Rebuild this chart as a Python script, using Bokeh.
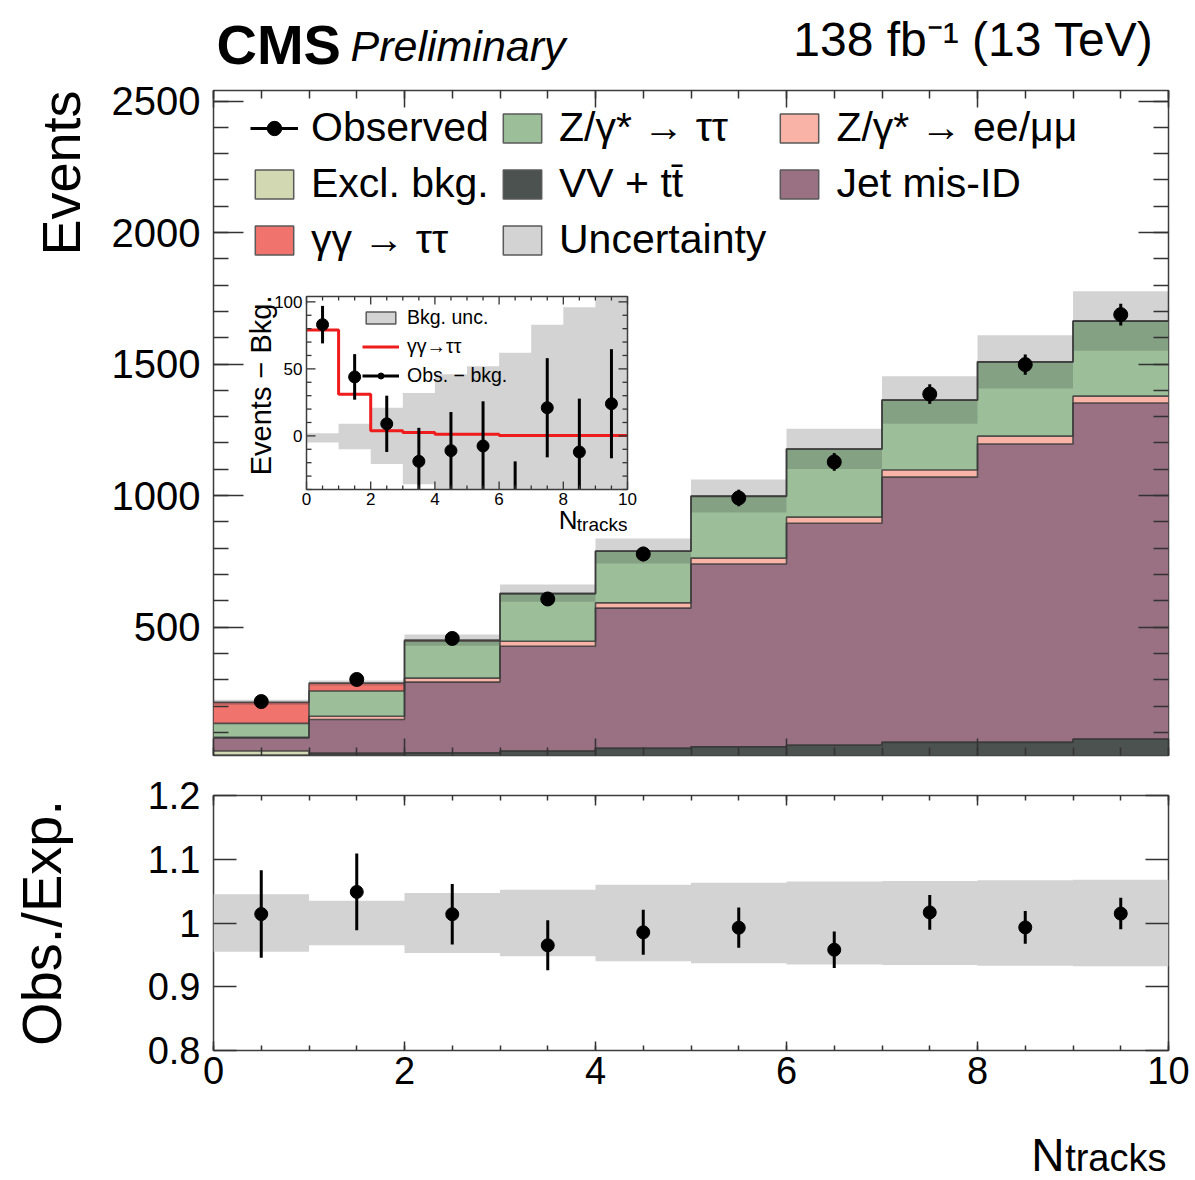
import numpy as np
from bokeh.plotting import figure
from bokeh.models import (Range1d, LinearAxis, FixedTicker, Legend, LegendItem, Title, Label,
                          CustomJSTickFormatter, GridBox)
from bokeh.core.properties import value
from bokeh.embed import file_html
from bokeh.resources import INLINE

FONT = "Liberation Sans"

# ---------------- data ----------------
bin_edges = [0, 1, 2, 3, 4, 5, 6, 7, 8, 9, 10]
bin_centers = [0.5, 1.5, 2.5, 3.5, 4.5, 5.5, 6.5, 7.5, 8.5, 9.5]

vv_ttbar = [14, 18, 21, 28, 39, 45, 51, 62, 62, 74]
excl_bkg = [15, 3, 1, 0.5, 0.3, 0.2, 0.1, 0.1, 0.1, 0.1]
jet_misid = [50, 128, 269, 399, 533, 695, 844, 1008, 1134, 1278]
dy_ll = [2, 12, 15, 19, 20, 22, 23, 27, 30, 26]
dy_tautau = [53, 96, 141, 180, 196, 235, 259, 266, 282, 285]
gg_tautau = [80, 30, 3.8, 2.5, 1.2, 1.2, 0.3, 0.3, 0.3, 0.3]

observed = [217, 301, 457, 607, 778, 991, 1128, 1386, 1498, 1688]
observed_err = [14.7, 17.3, 21.4, 24.6, 27.9, 31.5, 33.6, 37.2, 38.7, 41.1]
rel_unc = [0.045, 0.035, 0.047, 0.052, 0.060, 0.063, 0.065, 0.066, 0.067, 0.068]

inset_obs_minus_bkg = [83, 44, 9, -19, -11, -7.5, -53, 21, -12, 24]
inset_obs_err = [14, 17, 21, 25, 28.8, 33.3, 34, 37, 39.8, 40.7]
inset_signal = [79, 31, 3.8, 2.5, 1.2, 1.2, 0.2, 0.2, 0.2, 0.2]
inset_unc_up = [2, 9, 21, 32, 46, 52, 62, 83, 96, 110]
inset_unc_down = [-5, -10, -21, -36, -46, -52, -62, -83, -96, -110]

main_x_ticks = [0, 2, 4, 6, 8, 10]
main_y_ticks = [500, 1000, 1500, 2000, 2500]
ratio_y_ticks = [0.8, 0.9, 1.0, 1.1, 1.2]
inset_x_ticks = [0, 2, 4, 6, 8, 10]
inset_y_ticks = [0, 50, 100]

# ---------------- colours ----------------
COL_VV = "#4c5250"
COL_EX = "#d2d8b2"
COL_JET = "#997183"
COL_LL = "#f9b3a7"
COL_TT = "#9cbf9a"
COL_GG = "#f0736e"
COL_UNC = "#d3d3d3"
COL_LINE = "#3a3a3a"
COL_FRAME = "#3c3c3c"
COL_TICK = "#333333"
NAN1 = [np.nan]


def mid(baseline_px, size_px):
    """vertical centre of a text line whose baseline sits at baseline_px"""
    return baseline_px - 0.3465 * size_px


def ext(a):
    a = np.asarray(a, dtype=float)
    return np.append(a, a[-1])


def style_axis(ax, major, minor, tin, tmin, label_size=None, standoff=5, fmt=None):
    ax.ticker = FixedTicker(ticks=list(major), minor_ticks=list(minor))
    ax.axis_line_color = None
    ax.major_tick_in = tin
    ax.major_tick_out = 0
    ax.minor_tick_in = tmin
    ax.minor_tick_out = 0
    ax.major_tick_line_color = COL_TICK
    ax.minor_tick_line_color = COL_TICK
    ax.major_tick_line_width = 1.5
    ax.minor_tick_line_width = 1.5
    if label_size is None:
        ax.formatter = CustomJSTickFormatter(code="return ''")
        ax.major_label_text_font_size = "1px"
        ax.major_label_standoff = 0
    else:
        ax.major_label_text_font = FONT
        ax.major_label_text_font_size = label_size
        ax.major_label_text_color = "black"
        ax.major_label_standoff = standoff
        if fmt is not None:
            ax.formatter = fmt


def legend_box(fig, color):
    return fig.quad(left=NAN1, right=NAN1, top=NAN1, bottom=NAN1, fill_color=color,
                    line_color="#5a5a5a", line_width=1.5)


def text_figure(height):
    f = figure(frame_width=FW, frame_height=height, x_range=Range1d(0, 10),
               y_range=Range1d(height, 0), min_border_left=FL, min_border_right=27,
               min_border_top=0, min_border_bottom=0, x_axis_location=None, y_axis_location=None,
               output_backend="svg", toolbar_location=None, outline_line_color=None,
               background_fill_color="white", border_fill_color="white")
    f.xgrid.visible = False
    f.ygrid.visible = False
    return f


x_minor = np.arange(0, 10.01, 0.5)

FL, FW = 213, 955
HDR_H = 79

# ================= header (experiment / luminosity texts) =================
hdr = text_figure(HDR_H)
hdr.add_layout(Label(x=0, x_offset=3, y=mid(63, 56), text="CMS", text_font=FONT,
                     text_font_style="bold", text_font_size="56px", text_color="black",
                     text_baseline="middle"))
hdr.add_layout(Label(x=0, x_offset=137, y=mid(60, 43), text="Preliminary", text_font=FONT,
                     text_font_style="italic", text_font_size="43px", text_color="black",
                     text_baseline="middle"))
hdr.add_layout(Label(x=10, x_offset=-15, y=mid(56, 48), text="138 fb\u207b\u00b9 (13 TeV)",
                     text_font=FONT, text_font_size="48px", text_color="black", text_align="right",
                     text_baseline="middle"))

# ================= main panel =================
Y0, Y1 = 12, 2540
FT_BORDER = 90 - HDR_H
FH = 665
p = figure(frame_width=FW, frame_height=FH, x_range=Range1d(0, 10), y_range=Range1d(Y0, Y1),
           min_border_left=FL, min_border_right=27, min_border_top=FT_BORDER, min_border_bottom=20,
           output_backend="svg", toolbar_location=None,
           background_fill_color="white", border_fill_color="white")
p.xgrid.visible = False
p.ygrid.visible = False
p.outline_line_color = COL_FRAME
p.outline_line_width = 1.5

style_axis(p.xaxis[0], main_x_ticks, x_minor, 17, 8)
style_axis(p.yaxis[0], main_y_ticks, np.arange(100, 2540, 100), 30, 15, "40px", 13)
top_ax = LinearAxis()
p.add_layout(top_ax, "above")
style_axis(top_ax, main_x_ticks, x_minor, 17, 8)
right_ax = LinearAxis()
p.add_layout(right_ax, "right")
style_axis(right_ax, main_y_ticks, np.arange(100, 2540, 100), 30, 15)

stack = [
    (vv_ttbar, COL_VV),
    (excl_bkg, COL_EX),
    (jet_misid, COL_JET),
    (dy_ll, COL_LL),
    (dy_tautau, COL_TT),
    (gg_tautau, COL_GG),
]
base = np.zeros(len(bin_centers))
tops = []
for vals, col in stack:
    top = base + np.asarray(vals, dtype=float)
    p.varea_step(x=bin_edges, y1=ext(base), y2=ext(top), step_mode="after", fill_color=col)
    tops.append(top)
    base = top
total = base
for top in tops:
    p.step(x=bin_edges, y=ext(top), mode="after", line_color=COL_LINE, line_alpha=0.85, line_width=1.6)

rel = np.asarray(rel_unc)
p.varea_step(x=bin_edges, y1=ext(total * (1 - rel)), y2=ext(total * (1 + rel)),
             step_mode="after", fill_color="#373737", fill_alpha=0.22)

obs = np.asarray(observed, dtype=float)
obs_e = np.asarray(observed_err, dtype=float)
obs_err_r = p.segment(x0=bin_centers, y0=obs - obs_e, x1=bin_centers, y1=obs + obs_e,
                      line_color="black", line_width=3)
obs_pt_r = p.scatter(x=bin_centers, y=obs, size=14, marker="circle", fill_color="black", line_color="black")
obs_tick_r = p.scatter(x=NAN1, y=NAN1, size=24, marker="dash", angle=np.pi / 2,
                       line_color="black", line_width=2.5)

legend = Legend(items=[
    LegendItem(label="Observed", renderers=[obs_err_r, obs_tick_r, obs_pt_r]),
    LegendItem(label="Excl. bkg.", renderers=[legend_box(p, COL_EX)]),
    LegendItem(label="γγ → ττ", renderers=[legend_box(p, COL_GG)]),
    LegendItem(label="Z/γ* → ττ", renderers=[legend_box(p, COL_TT)]),
    LegendItem(label="VV + tt\u0304", renderers=[legend_box(p, COL_VV)]),
    LegendItem(label="Uncertainty", renderers=[legend_box(p, COL_UNC)]),
    LegendItem(label="Z/γ* → ee/μμ", renderers=[legend_box(p, COL_LL)]),
    LegendItem(label="Jet mis-ID", renderers=[legend_box(p, COL_JET)]),
], nrows=3, orientation="vertical", location=(37, 492),
    glyph_width=48, glyph_height=36, label_standoff=13, label_width=178, spacing=9,
    padding=0, margin=0,
    label_text_font=FONT, label_text_font_size="41px", label_text_color="black",
    border_line_color=None, background_fill_alpha=0)
p.add_layout(legend)

p.add_layout(Title(text="Events", align="right", vertical_align="bottom", standoff=35,
                   text_font=FONT, text_font_size="54px", text_font_style="normal",
                   text_color="black"), "left")

# ---------------- inset, drawn inside the main panel on its own ranges ----------------
MAIN_TOP_PX, MAIN_BOT_PX = 90, 90 + FH
IL, IR, IT, IB = 306, 627, 296, 489          # inset frame, page pixels
IY0, IY1 = -40, 104
ix_scale = (IR - IL) / 10.0                  # px per unit
iy_scale = (IB - IT) / (IY1 - IY0)
p.extra_x_ranges = {"ix": Range1d(0 - (IL - FL) / ix_scale, 10 + (FL + FW - IR) / ix_scale)}
p.extra_y_ranges = {"iy": Range1d(IY0 - (MAIN_BOT_PX - IB) / iy_scale, IY1 + (IT - MAIN_TOP_PX) / iy_scale)}
IRN = dict(x_range_name="ix", y_range_name="iy")

p.quad(left=[0], right=[10], bottom=[IY0], top=[IY1], fill_color="white", line_color=None, **IRN)
p.varea_step(x=bin_edges, y1=ext(np.clip(inset_unc_down, IY0, IY1)),
             y2=ext(np.clip(inset_unc_up, IY0, IY1)), step_mode="after", fill_color=COL_UNC, **IRN)
sig_r = p.step(x=bin_edges, y=ext(inset_signal), mode="after", line_color="#ee1c1c", line_width=3, **IRN)
iobs = np.asarray(inset_obs_minus_bkg, dtype=float)
ierr = np.asarray(inset_obs_err, dtype=float)
iseg = p.segment(x0=bin_centers, y0=np.clip(iobs - ierr, IY0, IY1), x1=bin_centers,
                 y1=np.clip(iobs + ierr, IY0, IY1), line_color="black", line_width=3, **IRN)
ipt_y = np.where((iobs >= IY0) & (iobs <= IY1), iobs, np.nan)
ipt = p.scatter(x=bin_centers, y=ipt_y, size=12, marker="circle", fill_color="black",
                line_color="black", **IRN)
itick = p.scatter(x=NAN1, y=NAN1, size=17, marker="dash", angle=np.pi / 2,
                  line_color="black", line_width=2.5, **IRN)

# inset ticks (inside), on all four sides
xt_major = np.asarray(inset_x_ticks, dtype=float)
xt_minor = np.setdiff1d(np.arange(0, 10.01, 0.5), xt_major)
yt_major = np.asarray(inset_y_ticks, dtype=float)
yt_minor = np.setdiff1d(np.arange(-40, 104.01, 10), yt_major)
for ticks, length_px in ((xt_major, 8), (xt_minor, 4)):
    d = length_px / iy_scale
    p.segment(x0=ticks, y0=np.full(len(ticks), IY0), x1=ticks, y1=np.full(len(ticks), IY0 + d),
              line_color=COL_TICK, line_width=1.3, **IRN)
    p.segment(x0=ticks, y0=np.full(len(ticks), IY1), x1=ticks, y1=np.full(len(ticks), IY1 - d),
              line_color=COL_TICK, line_width=1.3, **IRN)
for ticks, length_px in ((yt_major, 9), (yt_minor, 5)):
    d = length_px / ix_scale
    p.segment(x0=np.zeros(len(ticks)), y0=ticks, x1=np.full(len(ticks), d), y1=ticks,
              line_color=COL_TICK, line_width=1.3, **IRN)
    p.segment(x0=np.full(len(ticks), 10.0), y0=ticks, x1=np.full(len(ticks), 10 - d), y1=ticks,
              line_color=COL_TICK, line_width=1.3, **IRN)
p.quad(left=[0], right=[10], bottom=[IY0], top=[IY1], fill_alpha=0, line_color=COL_FRAME,
       line_width=1.5, **IRN)

p.text(x=xt_major, y=np.full(len(xt_major), IY0), text=[f"{t:g}" for t in xt_major],
       text_align="center", text_baseline="top", y_offset=3, text_font=value(FONT),
       text_font_size="17px", text_color="black", **IRN)
p.text(x=np.zeros(len(yt_major)), y=yt_major, text=[f"{t:g}" for t in yt_major],
       text_align="right", text_baseline="middle", x_offset=-4, text_font=value(FONT),
       text_font_size="17px", text_color="black", **IRN)
p.text(x=[0], y=[IY1], text=["Events − Bkg."], angle=np.pi / 2, text_align="right",
       text_baseline="middle", x_offset=260 - IL, y_offset=-1, text_font=value(FONT),
       text_font_size="29px", text_color="black", **IRN)
p.text(x=[10], y=[IY0], text=["N"], text_align="right", text_baseline="middle",
       x_offset=577 - IR, y_offset=mid(529, 26) - IB, text_font=value(FONT), text_font_size="26px",
       text_color="black", **IRN)
p.text(x=[10], y=[IY0], text=["tracks"], text_align="right", text_baseline="middle",
       x_offset=0, y_offset=mid(531, 19) - IB, text_font=value(FONT), text_font_size="19px",
       text_color="black", **IRN)

ileg = Legend(items=[
    LegendItem(label="Bkg. unc.", renderers=[legend_box(p, COL_UNC)]),
    LegendItem(label="γγ→ττ", renderers=[sig_r]),
    LegendItem(label="Obs. − bkg.", renderers=[iseg, itick, ipt]),
], location=(362 - FL, MAIN_BOT_PX - 387), glyph_width=37, glyph_height=15, label_standoff=8,
    spacing=6, padding=0, margin=0, label_text_font=FONT, label_text_font_size="19.5px",
    label_text_color="black", border_line_color=None, background_fill_alpha=0)
p.add_layout(ileg)

# ================= ratio panel =================
RT, RH, RBOT = 20, 255, 60
r = figure(frame_width=FW, frame_height=RH, x_range=Range1d(0, 10), y_range=Range1d(0.8, 1.2),
           min_border_left=FL, min_border_right=27, min_border_top=RT, min_border_bottom=RBOT,
           output_backend="svg", toolbar_location=None,
           background_fill_color="white", border_fill_color="white")
r.xgrid.visible = False
r.ygrid.visible = False
r.outline_line_color = COL_FRAME
r.outline_line_width = 1.5
style_axis(r.xaxis[0], main_x_ticks, x_minor, 9, 5, "38px", 6)
style_axis(r.yaxis[0], ratio_y_ticks, [], 23, 0, "38px", 13,
           CustomJSTickFormatter(code="return tick.toFixed(1).replace(/\\.0$/, '');"))
r.yaxis[0].axis_label = "Obs./Exp."
r.yaxis[0].axis_label_text_font = FONT
r.yaxis[0].axis_label_text_font_size = "56px"
r.yaxis[0].axis_label_text_font_style = "normal"
r.yaxis[0].axis_label_text_color = "black"
r.yaxis[0].axis_label_standoff = 72
r_top = LinearAxis()
r.add_layout(r_top, "above")
style_axis(r_top, main_x_ticks, x_minor, 10, 5)
r_right = LinearAxis()
r.add_layout(r_right, "right")
style_axis(r_right, ratio_y_ticks, [], 23, 0)

ratio = obs / total
ratio_e = obs_e / total
r.varea_step(x=bin_edges, y1=ext(1 - rel), y2=ext(1 + rel), step_mode="after", fill_color=COL_UNC)
r.segment(x0=bin_centers, y0=ratio - ratio_e, x1=bin_centers, y1=ratio + ratio_e,
          line_color="black", line_width=3)
r.scatter(x=bin_centers, y=ratio, size=13, marker="circle", fill_color="black", line_color="black")

# ================= footer (x-axis title) =================
FOOT_TOP = 90 + FH + 20 + RT + RH + RBOT     # page px where the footer starts
ftr = text_figure(1180 - FOOT_TOP)
ftr.add_layout(Label(x=10, x_offset=1064 - (FL + FW), y=mid(1170, 46) - FOOT_TOP, text="N",
                     text_font=FONT, text_font_size="46px", text_color="black", text_align="right",
                     text_baseline="middle"))
ftr.add_layout(Label(x=10, x_offset=-2, y=mid(1171, 38) - FOOT_TOP, text="tracks", text_font=FONT,
                     text_font_size="38px", text_color="black", text_align="right",
                     text_baseline="middle"))

layout = GridBox(children=[(hdr, 0, 0), (p, 1, 0), (r, 2, 0), (ftr, 3, 0)], spacing=0)

open("out.html", "w").write(file_html(layout, INLINE))
